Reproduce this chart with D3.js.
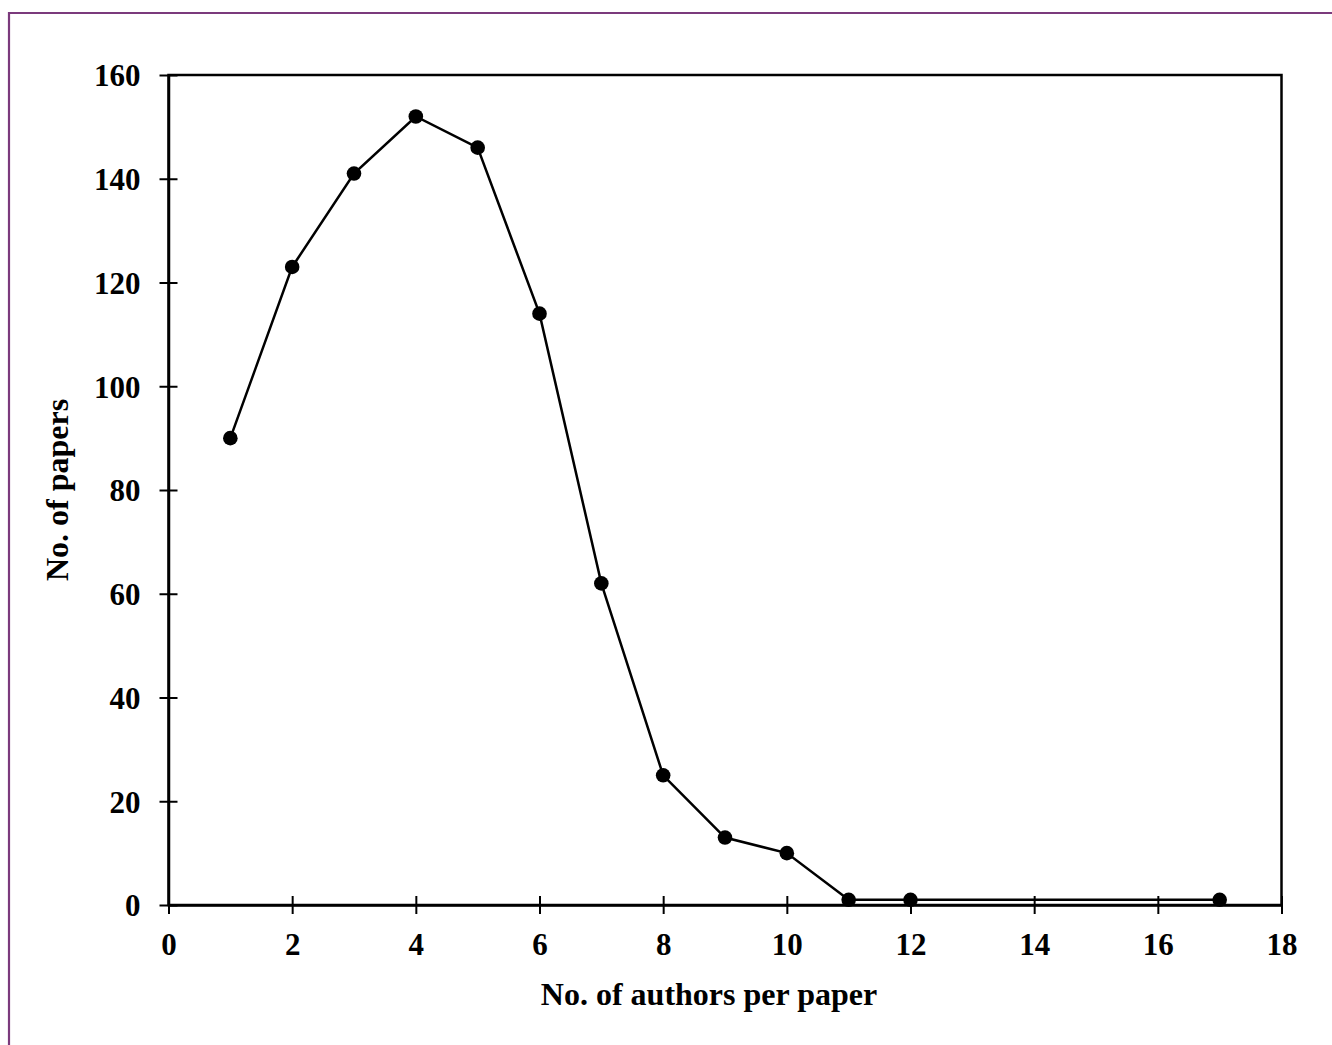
<!DOCTYPE html>
<html><head><meta charset="utf-8">
<script src="https://cdn.jsdelivr.net/npm/d3@7"></script>
<style>body{margin:0;background:#fff}svg{display:block}</style>
</head><body>
<script>
const authors = [1,2,3,4,5,6,7,8,9,10,11,12,17];
const papers = [90,123,141,152,146,114,62,25,13,10,1,1,1];
const xTicks = [0,2,4,6,8,10,12,14,16,18];
const yTicks = [0,20,40,60,80,100,120,140,160];
const xTitle = "No. of authors per paper";
const yTitle = "No. of papers";

const W = 1332, H = 1045;
const m = {left:168.5, right:1281.5, top:75, bottom:905};
const svg = d3.select("body").append("svg").attr("width",W).attr("height",H);
svg.append("rect").attr("width",W).attr("height",H).attr("fill","#fff");
// purple frame
svg.append("path").attr("d",`M9,${H} L9,13 L${W},13`).attr("fill","none").attr("stroke","#7b3a7c").attr("stroke-width",2.2);

const x = d3.scaleLinear().domain([0,18]).range([m.left,m.right]);
const y = d3.scaleLinear().domain([0,160]).range([m.bottom,m.top]);
const font = "'Liberation Serif','Times New Roman',serif";

// frame
svg.append("rect").attr("x",m.left).attr("y",m.top).attr("width",m.right-m.left).attr("height",m.bottom-m.top)
  .attr("fill","none").attr("stroke","#000").attr("stroke-width",2.5);

const xAxis = svg.append("g").attr("transform",`translate(0,${m.bottom})`)
  .call(d3.axisBottom(x).tickValues(xTicks).tickSizeInner(9).tickSizeOuter(0).tickPadding(0).tickFormat(d3.format("d")));
xAxis.selectAll("line").attr("y1",-9).attr("stroke-width",2);
const yAxis = svg.append("g").attr("transform",`translate(${m.left},0)`)
  .call(d3.axisLeft(y).tickValues(yTicks).tickSizeInner(9).tickSizeOuter(0).tickPadding(19).tickFormat(d3.format("d")));
yAxis.selectAll("line").attr("x1",9).attr("stroke-width",2);
[xAxis,yAxis].forEach(a=>{
  a.select(".domain").attr("stroke","#000").attr("stroke-width",2.5);
  a.selectAll("text").attr("font-family",font).attr("font-weight","bold").attr("font-size",31).attr("fill","#000");
});
xAxis.selectAll("text").attr("y",50).attr("dy",0);
yAxis.selectAll("text").attr("dy","0.35em");

const line = d3.line().x((d,i)=>x(authors[i])).y(d=>y(d));
svg.append("path").datum(papers).attr("d",line).attr("fill","none").attr("stroke","#000").attr("stroke-width",2.5);
svg.append("g").selectAll("circle").data(papers).join("circle")
  .attr("cx",(d,i)=>x(authors[i])).attr("cy",d=>y(d)).attr("r",7.3).attr("fill","#000");

svg.append("text").attr("x",709).attr("y",1005).attr("text-anchor","middle")
  .attr("font-family",font).attr("font-weight","bold").attr("font-size",32).text(xTitle);
svg.append("text").attr("transform",`translate(68,${(m.top+m.bottom)/2}) rotate(-90)`).attr("text-anchor","middle")
  .attr("font-family",font).attr("font-weight","bold").attr("font-size",32).text(yTitle);
</script>
</body></html>
